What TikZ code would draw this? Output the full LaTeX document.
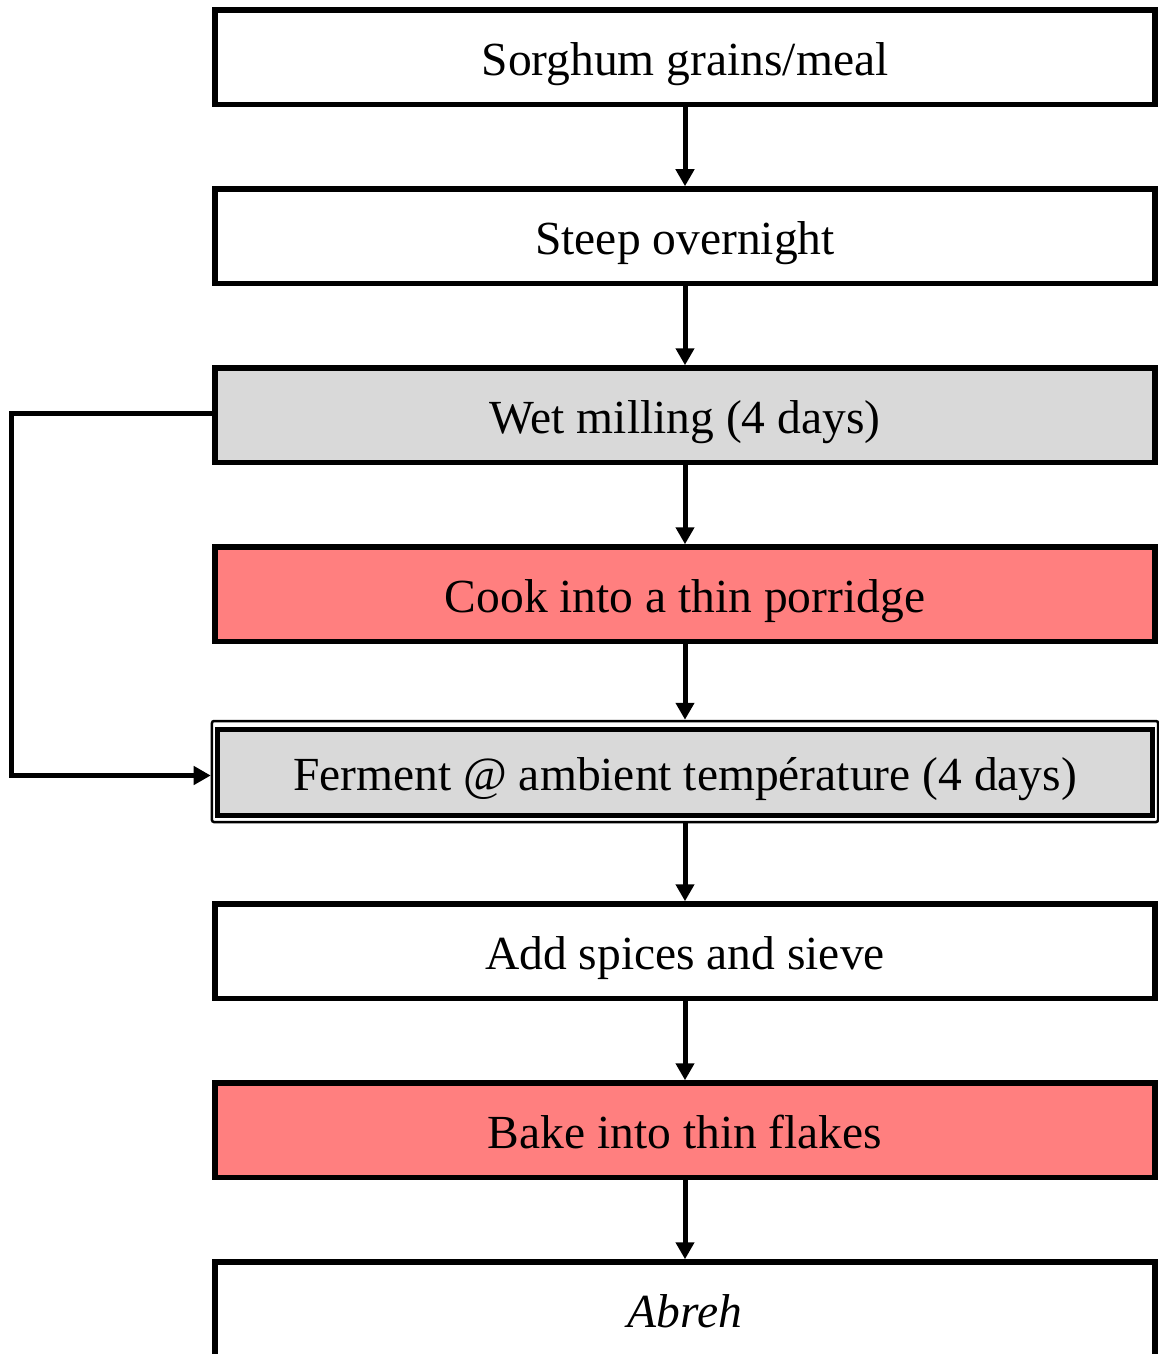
\documentclass[tikz,border=0pt]{standalone}
\usepackage{fontspec}
\setmainfont{Liberation Serif}
\usetikzlibrary{arrows.meta}
\definecolor{boxgray}{HTML}{D9D9D9}
\definecolor{boxred}{HTML}{FF7F7F}
\begin{document}
\begin{tikzpicture}[x=1bp,y=-1bp,
  stepbox/.style={draw, line width=5.5bp, rectangle, minimum width=940bp, minimum height=94.5bp, inner sep=0pt,
    text height=37bp, text depth=0bp,
    font=\fontsize{47.5bp}{57bp}\selectfont},
  flow/.style={line width=5bp, -{Triangle[length=17bp,width=18bp]}}]
\useasboundingbox (0,0) rectangle (1158,1354);
\node[stepbox] (s1) at (685,57.25) {Sorghum grains/meal};
\node[stepbox] (s2) at (685,236.25) {Steep overnight};
\node[stepbox, fill=boxgray] (s3) at (685,415.25) {Wet milling (4 days)};
\node[stepbox, fill=boxred] (s4) at (685,594.25) {Cook into a thin porridge};
\node[draw, line width=2.5bp, rounded corners=2bp, minimum width=946bp, minimum height=101bp, inner sep=0pt] (s5o) at (685,771.5) {};
\node[stepbox, fill=boxgray, line width=5bp, minimum width=934bp, minimum height=86bp] (s5) at (685,772) {Ferment @ ambient température (4 days)};
\node[stepbox] (s6) at (685,951.25) {Add spices and sieve};
\node[stepbox, fill=boxred] (s7) at (685,1130.25) {Bake into thin flakes};
\node[stepbox] (s8) at (685,1309.25) {\itshape Abreh};
\draw[flow] (s1.south) -- (s2.north);
\draw[flow] (s2.south) -- (s3.north);
\draw[flow] (s3.south) -- (s4.north);
\draw[flow] (s4.south) -- (s5o.north);
\draw[flow] (s5o.south) -- (s6.north);
\draw[flow] (s6.south) -- (s7.north);
\draw[flow] (s7.south) -- (s8.north);
\coordinate (c1) at (11,413.5);
\coordinate (c2) at (11,775.5);
\draw[flow] (s3.west |- c1) -- (c1) -- (c2) -- (s5o.west |- c2);
\end{tikzpicture}
\end{document}
